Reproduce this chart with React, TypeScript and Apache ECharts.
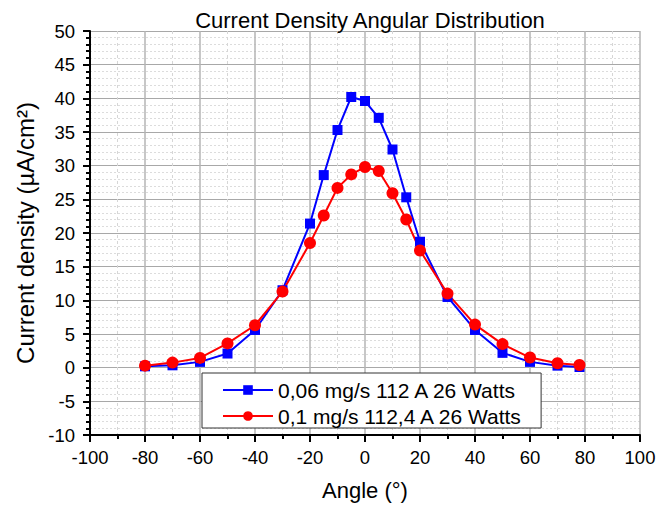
import React, { useEffect, useRef } from "react";
import * as echarts from "echarts";

const angles = [-80, -70, -60, -50, -40, -30, -20, -15, -10, -5, 0, 5, 10, 15, 20, 30, 40, 50, 60, 70, 78];
const blueValues = [0.2, 0.35, 0.86, 2.1, 5.6, 11.5, 21.4, 28.6, 35.3, 40.2, 39.6, 37.1, 32.4, 25.3, 18.7, 10.5, 5.6, 2.2, 0.86, 0.3, 0.1];
const redValues = [0.3, 0.75, 1.45, 3.6, 6.3, 11.3, 18.5, 22.6, 26.7, 28.7, 29.8, 29.2, 25.9, 22.0, 17.4, 11.0, 6.4, 3.5, 1.5, 0.65, 0.4];
const blueName = "0,06 mg/s 112 A 26 Watts";
const redName = "0,1 mg/s 112,4 A 26 Watts";
const titleText = "Current Density Angular Distribution";
const xName = "Angle (°)";
const yName = "Current density (µA/cm²)";

const FONT = "'Liberation Sans', Arial, sans-serif";

export default function App() {
  const ref = useRef<HTMLDivElement>(null);
  useEffect(() => {
    if (!ref.current) return;
    const chart = echarts.init(ref.current, undefined, { renderer: "svg" });
    const blue = angles.map((a, i) => [a, blueValues[i]]);
    const red = angles.map((a, i) => [a, redValues[i]]);
    chart.setOption({
      animation: false,
      backgroundColor: "#ffffff",
      textStyle: { fontFamily: FONT },
      title: {
        text: titleText,
        left: 365,
        textAlign: "center",
        top: 4,
        textStyle: { fontFamily: FONT, fontSize: 22, fontWeight: "normal", color: "#000" },
      },
      grid: { left: 90, top: 31, right: 30, bottom: 70, containLabel: false },
      xAxis: {
        type: "value",
        min: -100,
        max: 100,
        interval: 20,
        name: xName,
        nameLocation: "middle",
        nameGap: 44,
        nameTextStyle: { fontFamily: FONT, fontSize: 22, color: "#000" },
        axisLine: { onZero: false, lineStyle: { color: "#000", width: 2 } },
        axisTick: { show: true, inside: false, length: 7, lineStyle: { color: "#000", width: 2 } },
        minorTick: { show: true, splitNumber: 2, length: 4, lineStyle: { color: "#000", width: 2 } },
        axisLabel: { fontFamily: FONT, fontSize: 18.5, color: "#000", margin: 13 },
        splitLine: { show: true, lineStyle: { color: "#b4b4b4", width: 1.5 } },
        minorSplitLine: { show: true, lineStyle: { color: "#d6d6d6", width: 1, type: [3, 3] } },
      },
      yAxis: {
        type: "value",
        min: -10,
        max: 50,
        interval: 5,
        name: yName,
        nameLocation: "middle",
        nameGap: 50,
        nameTextStyle: { fontFamily: FONT, fontSize: 24, color: "#000" },
        axisLine: { show: true, onZero: false, lineStyle: { color: "#000", width: 2 } },
        axisTick: { show: true, inside: false, length: 7, lineStyle: { color: "#000", width: 2 } },
        minorTick: { show: true, splitNumber: 5, length: 4, lineStyle: { color: "#000", width: 2 } },
        axisLabel: { fontFamily: FONT, fontSize: 18.5, color: "#000", margin: 15 },
        splitLine: { show: true, lineStyle: { color: "#a8a8a8", width: 1 } },
        minorSplitLine: { show: true, lineStyle: { color: "#dcdcdc", width: 1, type: [2, 2] } },
      },
      legend: {
        orient: "vertical",
        left: 202,
        top: 373,
        backgroundColor: "#ffffff",
        borderColor: "#333",
        borderWidth: 1,
        borderRadius: 0,
        padding: [5, 18, 0, 20],
        itemGap: 2,
        itemWidth: 50,
        itemHeight: 12,
        textStyle: { fontFamily: FONT, fontSize: 21, color: "#000", lineHeight: 24 },
        data: [blueName, redName],
      },
      series: [
        {
          name: blueName,
          type: "line",
          data: blue,
          symbol: "rect",
          symbolSize: 10,
          color: "#0000ff",
          lineStyle: { color: "#0000ff", width: 2 },
          itemStyle: { color: "#0000ff" },
        },
        {
          name: redName,
          type: "line",
          data: red,
          symbol: "circle",
          symbolSize: 12,
          color: "#ff0000",
          lineStyle: { color: "#ff0000", width: 2 },
          itemStyle: { color: "#ff0000" },
        },
      ],
    });
    return () => chart.dispose();
  }, []);
  return <div ref={ref} style={{ position: "fixed", left: 0, top: 0, width: 670, height: 506 }} />;
}
